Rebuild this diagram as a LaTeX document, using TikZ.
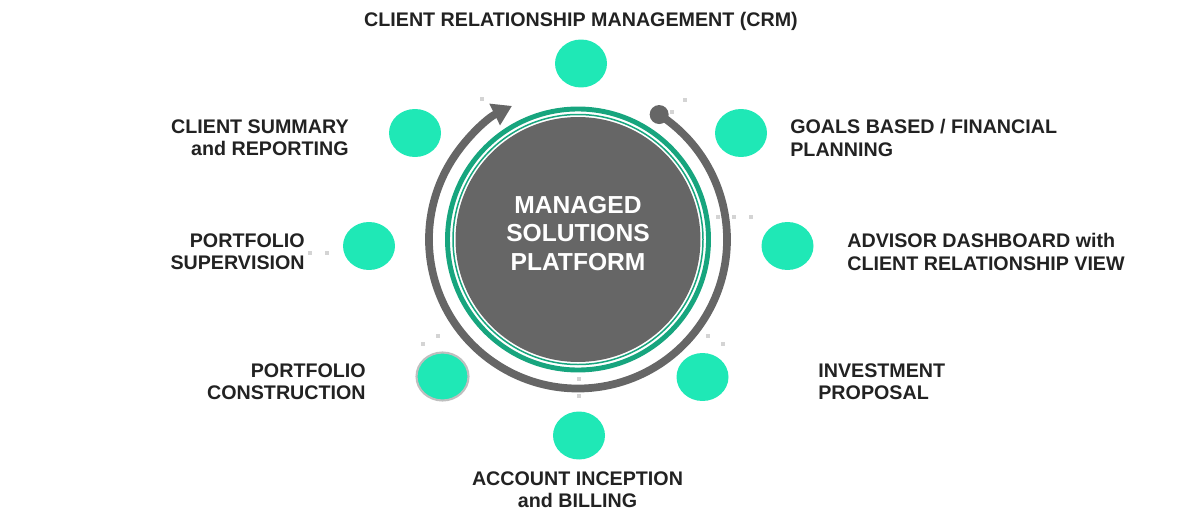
\documentclass[tikz,border=0pt]{standalone}
\usepackage{fontspec}
\setmainfont{Liberation Sans}
\usetikzlibrary{arrows.meta,shapes.geometric,calc}
\definecolor{ringgray}{HTML}{666666}
\definecolor{ringgreen}{HTML}{17A57E}
\definecolor{bubblec}{HTML}{1FE8B6}
\definecolor{txt}{HTML}{222222}
\definecolor{dotgray}{HTML}{D4D4D4}
\definecolor{rimgray}{HTML}{BFBFBF}
\begin{document}
\begin{tikzpicture}[x=0.02cm,y=0.02cm,
  bubble/.style={ellipse, fill=bubblec, minimum width=1.04cm, minimum height=0.96cm, inner sep=0pt},
  lbl/.style={font=\bfseries\fontsize{11.2}{13}\selectfont, text=txt, inner sep=0pt},
  title/.style={font=\bfseries\fontsize{14}{16.4}\selectfont, text=white, inner sep=0pt, align=center},
  dotsq/.style={fill=dotgray, minimum size=0.095cm, inner sep=0pt, rectangle}]
\useasboundingbox (0,0) rectangle (1200,525);
\coordinate (C) at (578,285.5);

% central disc and rings
\node[circle, fill=ringgray, minimum size=4.9cm, inner sep=0pt] (core) at (C) {};
\draw[ringgreen, line width=0.85pt] (C) circle[radius=125];
\draw[ringgreen, line width=2.8pt] (C) circle[radius=130.5];
\node[title] (ttl) at (578,291.5) {MANAGED\\SOLUTIONS\\PLATFORM};

% outer cycle arc with knob and arrow
\node[circle, fill=ringgray, minimum size=0.38cm, inner sep=0pt] (knob) at ($(C)+(57:149)$) {};
\draw[ringgray, line width=4.4pt, -{Triangle[length=11pt,width=13pt]}]
  (knob.center) arc[start angle=57, end angle=-243.7, radius=149];

% decorative dots
\foreach \p [count=\i] in {(482,426),(685,425),(672,413),(423,181),(438,189),(579,146),(579,129),(708,189),(723,181),(310,272),(327,272),(718,308),(734,308),(751,308)}
  \node[dotsq] (d\i) at \p {};

% bubbles
\node[bubble] (crm)   at (581,461.5) {};
\node[bubble] (summ)  at (415,392) {};
\node[bubble] (goals) at (741,392) {};
\node[bubble] (sup)   at (369,279) {};
\node[bubble] (adv)   at (787.5,279) {};
\node[bubble, draw=rimgray, line width=1.2pt] (pcons) at (442.5,148.5) {};
\node[bubble] (inv)   at (702.5,148) {};
\node[bubble] (acct)  at (579,89.5) {};

% labels
\node[lbl, anchor=north] (tcrm) at (581,513) {CLIENT RELATIONSHIP MANAGEMENT (CRM)};
\node[lbl, anchor=north east, align=right] (tsumm) at (349,406) {CLIENT SUMMARY\\and REPORTING};
\node[lbl, anchor=north west, align=left] (tgoals) at (790,406) {GOALS BASED / FINANCIAL\\PLANNING};
\node[lbl, anchor=north east, align=right] (tsup) at (305,292) {PORTFOLIO\\SUPERVISION};
\node[lbl, anchor=north west, align=left] (tadv) at (847,292) {ADVISOR DASHBOARD with\\CLIENT RELATIONSHIP VIEW};
\node[lbl, anchor=north east, align=right] (tpcons) at (366,162) {PORTFOLIO\\CONSTRUCTION};
\node[lbl, anchor=north west, align=left] (tinv) at (818,162) {INVESTMENT\\PROPOSAL};
\node[lbl, anchor=north, align=center] (tacct) at (577.5,54) {ACCOUNT INCEPTION\\and BILLING};
\end{tikzpicture}
\end{document}
